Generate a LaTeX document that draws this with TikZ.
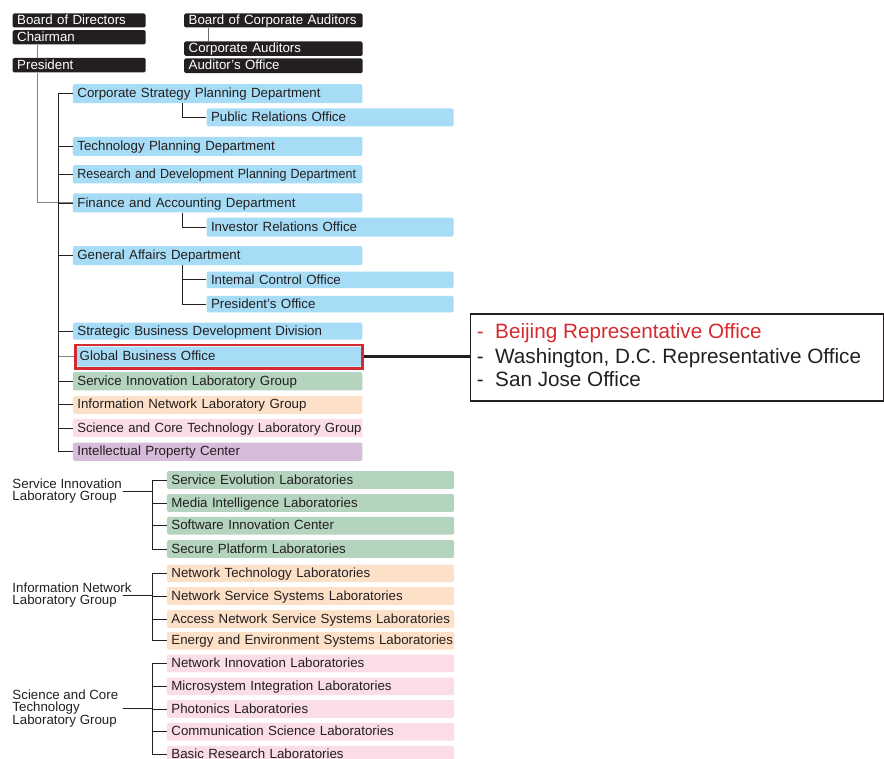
\documentclass[tikz,border=0pt]{standalone}
\usepackage{fontspec}
\usepackage{graphicx}
\setmainfont{Liberation Sans}
\usetikzlibrary{fit}
\definecolor{ink}{HTML}{231F20}
\definecolor{midgray}{HTML}{808285}
\definecolor{deptblue}{HTML}{A6DCF5}
\definecolor{labgreen}{HTML}{B4D4BD}
\definecolor{labpeach}{HTML}{FDE0C8}
\definecolor{labpink}{HTML}{FADDE6}
\definecolor{lablav}{HTML}{D7BBDB}
\definecolor{accent}{HTML}{D52B30}
\newcommand{\boxfont}{\fontsize{13.3}{12.5}\selectfont}
\newcommand{\listfont}{\fontsize{20.7}{23.8}\selectfont}
% one-line box labels: never break, let a long label run past the right margin
\newcommand{\oneline}{\hyphenpenalty=10000\exhyphenpenalty=10000\rightskip=0pt minus 40pt\relax}
\tikzset{
  unit/.style={anchor=north west, rounded corners=1.5pt, inner xsep=4.5pt, inner ysep=0pt,
    text height=10.3pt, text depth=2.1pt, font=\boxfont, text=ink,
    execute at begin node=\oneline},
  exec/.style={unit, fill=ink, text=white, text width=124pt},
  audit/.style={unit, fill=ink, text=white, text width=169.5pt},
  dept/.style={unit, fill=deptblue, text width=280.5pt, minimum height=19pt},
  office/.style={unit, fill=deptblue, text width=238pt, minimum height=18pt},
  lab/.style={unit, text width=278.3pt, minimum height=17.7pt},
  grouplabel/.style={anchor=west, inner sep=0pt, font=\boxfont, text=ink, align=left},
  listitem/.style={anchor=base west, inner sep=0pt, font=\listfont, text=ink},
  kline/.style={draw=ink, line width=0.9pt},
  gline/.style={draw=midgray, line width=1pt},
}
\begin{document}
\begin{tikzpicture}[x=1pt, y=-1pt]
\useasboundingbox (0,0) rectangle (884,759);

% executive and audit boxes
\node[exec, minimum height=14pt]   (bod) at (12.5,13.3) {Board of Directors};
\node[exec, minimum height=14.3pt] (chm) at (12.5,30)   {Chairman};
\node[exec, minimum height=14.6pt] (prs) at (12.5,57.7) {President};
\node[audit, minimum height=14pt]  (bca) at (184,13.3)  {Board of Corporate Auditors};
\node[audit, minimum height=14.4pt] (cau) at (184,41.3) {Corporate Auditors};
\node[audit, minimum height=14.7pt] (aof) at (184,58.3) {Auditor's Office};

% trunk x-positions
\coordinate (px) at (37.7,0);
\coordinate (ax) at (208.3,0);
\coordinate (dx) at (58.7,0);
\coordinate (sx) at (182.7,0);
\coordinate (lx) at (123.3,0);
\coordinate (vx) at (152.7,0);

% departments
\node[dept] (csp) at (72.7,84)    {Corporate Strategy Planning Department};
\node[office] (pro) at (206.3,108.3) {Public Relations Office};
\node[dept] (tpd) at (72.7,136.7) {Technology Planning Department};
\node[dept, minimum height=18.3pt] (rdp) at (72.7,165) {\scalebox{0.94}[1]{Research and Development Planning Department}};
\node[dept] (fad) at (72.7,193.3) {Finance and Accounting Department};
\node[office, minimum height=19pt] (iro) at (206.3,217.5) {Investor Relations Office};
\node[dept] (gad) at (72.7,246)   {General Affairs Department};
\node[office, minimum height=16.5pt] (ico) at (206.3,271.5) {Intemal Control Office};
\node[office, minimum height=16.5pt] (pso) at (206.3,295.6) {President's Office};
\node[dept, minimum height=17pt] (sbd) at (72.7,322.5) {Strategic Business Development Division};
\node[dept, inner xsep=2.5pt, text width=279pt, minimum height=20pt] (gbo) at (77,346.5) {Global Business Office};
\node[fit=(gbo), inner sep=1.4pt, draw=accent, line width=2.8pt] (gbof) {};
\node[dept, fill=labgreen, minimum height=18.3pt] (silg) at (72.7,372) {Service Innovation Laboratory Group};
\node[dept, fill=labpeach, minimum height=18pt] (inlg) at (72.7,395.7) {Information Network Laboratory Group};
\node[dept, fill=labpink, minimum height=18.3pt] (sclg) at (72.7,418.7) {\scalebox{0.985}[1]{Science and Core Technology Laboratory Group}};
\node[dept, fill=lablav, minimum height=18.4pt] (ipc) at (72.7,442.3) {Intellectual Property Center};

% overseas offices
\node[draw=ink, line width=1.1pt, anchor=north west, minimum width=413pt, minimum height=87pt, inner sep=0pt] (lst) at (469.5,313.5) {};
\node[listitem, text=accent] (li1) at (476.7,339)   {\makebox[18.3pt][l]{-}Beijing Representative Office};
\node[listitem] (li2) at (476.7,363.3) {\makebox[18.3pt][l]{-}Washington, D.C. Representative Office};
\node[listitem] (li3) at (476.7,386.9) {\makebox[18.3pt][l]{-}San Jose Office};

% laboratories
\node[lab, fill=labgreen] (sel) at (166.7,471)   {Service Evolution Laboratories};
\node[lab, fill=labgreen] (mil) at (166.7,494)   {Media Intelligence Laboratories};
\node[lab, fill=labgreen] (sic) at (166.7,516.7) {Software Innovation Center};
\node[lab, fill=labgreen] (spl) at (166.7,540)   {Secure Platform Laboratories};
\node[lab, fill=labpeach] (ntl) at (166.7,564.3) {Network Technology Laboratories};
\node[lab, fill=labpeach] (nsl) at (166.7,587)   {Network Service Systems Laboratories};
\node[lab, fill=labpeach] (anl) at (166.7,610)   {Access Network Service Systems Laboratories};
\node[lab, fill=labpeach] (eel) at (166.7,631.7) {Energy and Environment Systems Laboratories};
\node[lab, fill=labpink] (nil) at (166.7,654.3) {Network Innovation Laboratories};
\node[lab, fill=labpink] (msl) at (166.7,677.3) {Microsystem Integration Laboratories};
\node[lab, fill=labpink] (phl) at (166.7,700)   {Photonics Laboratories};
\node[lab, fill=labpink] (csl) at (166.7,722.7) {Communication Science Laboratories};
\node[lab, fill=labpink] (brl) at (166.7,745.7) {Basic Research Laboratories};

% laboratory group labels
\node[grouplabel] (glsi) at (12.3,491.2) {Service Innovation\\Laboratory Group};
\node[grouplabel] (glin) at (12.3,595.3) {Information Network\\Laboratory Group};
\node[grouplabel] (glsc) at (12.3,708.2) {Science and Core\\Technology\\Laboratory Group};

% connectors: executive line
\draw[gline] (chm.south -| px) -- (prs.north -| px);
\draw[gline] (prs.south -| px) |- (fad.west);
\draw[kline, draw=midgray!80!ink] (bca.south -| ax) -- (cau.north -| ax);

% connectors: departments
\draw[kline] (csp.west) -| (ipc.west -| dx) -- (ipc.west);
\foreach \n in {tpd,rdp,fad,gad,sbd,silg,inlg,sclg}
  \draw[kline] (\n.west -| dx) -- (\n.west);
\draw[gline] (gbof.west -| dx) -- (gbof.west);
\draw[kline] (csp.south -| sx) |- (pro.west);
\draw[kline] (fad.south -| sx) |- (iro.west);
\draw[kline] (gad.south -| sx) |- (pso.west);
\draw[kline] (ico.west -| sx) -- (ico.west);
\draw[draw=ink, line width=2.8pt] (gbof.east) -- (lst.west |- gbof.east);

% connectors: laboratory groups
\draw[kline] (glsi.east -| lx) -- (glsi.east -| vx);
\draw[kline] (sel.west) -| (spl.west -| vx) -- (spl.west);
\foreach \n in {mil,sic}
  \draw[kline] (\n.west -| vx) -- (\n.west);
\draw[kline] (glin.east -| lx) -- (glin.east -| vx);
\draw[kline] (ntl.west) -| (eel.west -| vx) -- (eel.west);
\foreach \n in {nsl,anl}
  \draw[kline] (\n.west -| vx) -- (\n.west);
\draw[kline] (glsc.east -| lx) -- (glsc.east -| vx);
\draw[kline] (nil.west) -| (brl.west -| vx) -- (brl.west);
\foreach \n in {msl,phl,csl}
  \draw[kline] (\n.west -| vx) -- (\n.west);
\end{tikzpicture}
\end{document}
